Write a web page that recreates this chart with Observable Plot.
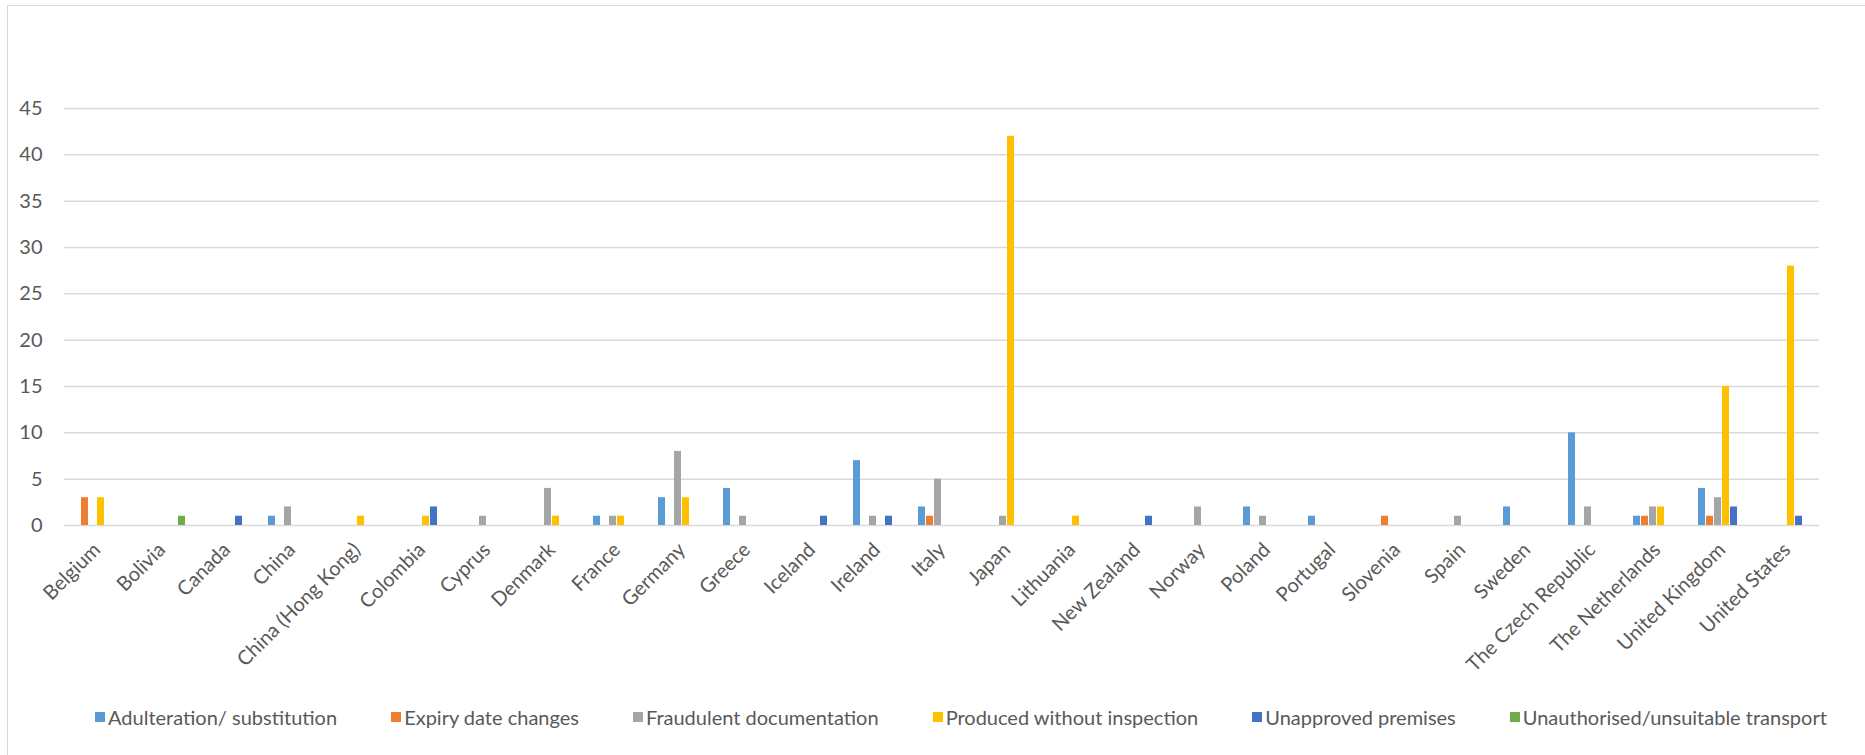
<!DOCTYPE html>
<html>
<head>
<meta charset="utf-8">
<script src="https://cdn.jsdelivr.net/npm/d3@7"></script>
<script src="https://cdn.jsdelivr.net/npm/@observablehq/plot@0.6"></script>
<style>
  html, body { margin: 0; padding: 0; background: #fff; }
  #wrap { position: relative; width: 1865px; height: 755px; overflow: hidden; font-family: Lato, "Liberation Sans", sans-serif; }
  #frame { position: absolute; left: 7px; top: 5px; width: 1870px; height: 760px;
           border-top: 1.5px solid #d9d9d9; border-left: 1.5px solid #d9d9d9; box-sizing: border-box; }
  #chart { position: absolute; left: 0; top: 0; }
  #legend { position: absolute; left: 95px; top: 705px; display: flex; gap: 54px;
            font-size: 20px; color: #595959; white-space: nowrap; }
  #legend .item { display: flex; align-items: center; }
  #legend .sw { width: 10px; height: 10px; margin-right: 3px; }
</style>
</head>
<body>
<div id="wrap">
  <div id="frame"></div>
  <div id="chart"></div>
  <div id="legend"></div>
</div>
<script>
// Reporting countries (x axis categories)
const countries = [
  "Belgium", "Bolivia", "Canada", "China", "China (Hong Kong)", "Colombia",
  "Cyprus", "Denmark", "France", "Germany", "Greece", "Iceland", "Ireland",
  "Italy", "Japan", "Lithuania", "New Zealand", "Norway", "Poland", "Portugal",
  "Slovenia", "Spain", "Sweden", "The Czech Republic", "The Netherlands",
  "United Kingdom", "United States"
];

// Incident types (series)
const seriesNames = [
  "Adulteration/ substitution",
  "Expiry date changes",
  "Fraudulent documentation",
  "Produced without inspection",
  "Unapproved premises",
  "Unauthorised/unsuitable transport"
];
const seriesColors = ["#5b9bd5", "#ed7d31", "#a5a5a5", "#ffc000", "#4472c4", "#70ad47"];

// Counts per country, one array per incident type (same order as countries)
const adulteration = [0,0,0,1,0,0,0,0,1,3,4,0,7,2,0,0,0,0,2,1,0,0,2,10,1,4,0];
const expiryChanges = [3,0,0,0,0,0,0,0,0,0,0,0,0,1,0,0,0,0,0,0,1,0,0,0,1,1,0];
const fraudulentDocs = [0,0,0,2,0,0,1,4,1,8,1,0,1,5,1,0,0,2,1,0,0,1,0,2,2,3,0];
const noInspection = [3,0,0,0,1,1,0,1,1,3,0,0,0,0,42,1,0,0,0,0,0,0,0,0,2,15,28];
const unapprovedPremises = [0,0,1,0,0,2,0,0,0,0,0,1,1,0,0,0,1,0,0,0,0,0,0,0,0,2,1];
const unsuitableTransport = [0,1,0,0,0,0,0,0,0,0,0,0,0,0,0,0,0,0,0,0,0,0,0,0,0,0,0];

// Y axis ticks
const yTicks = [0, 5, 10, 15, 20, 25, 30, 35, 40, 45];

const seriesValues = [adulteration, expiryChanges, fraudulentDocs, noInspection, unapprovedPremises, unsuitableTransport];

// Long-format rows for the grouped bars
const rows = [];
seriesNames.forEach((s, si) => {
  countries.forEach((c, ci) => {
    const v = seriesValues[si][ci];
    if (v > 0) rows.push({country: c, series: s, value: v});
  });
});

const textColor = "#595959";
const gridColor = "#d9d9d9";

// Country panels touch each other so the gridlines run unbroken;
// the gap between clusters comes from the outer padding of the x band scale.
const chart = Plot.plot({
  width: 1865,
  height: 700,
  marginTop: 108,
  marginBottom: 175,
  marginLeft: 60,
  marginRight: 42,
  style: {fontFamily: "Lato, 'Liberation Sans', sans-serif", fontSize: "20px", color: textColor, background: "transparent", overflow: "visible"},
  fx: {domain: countries, padding: 0, label: null, tickRotate: -45, tickSize: 0, tickPadding: 21},
  x: {domain: seriesNames, paddingInner: 0.15, paddingOuter: 0.9, axis: null},
  y: {domain: [0, 45], ticks: yTicks, tickSize: 0, tickPadding: 22, label: null},
  color: {domain: seriesNames, range: seriesColors},
  marks: [
    Plot.ruleY(yTicks, {stroke: gridColor, strokeWidth: 1.5}),
    Plot.barY(rows, {fx: "country", x: "series", y: "value", fill: "series"})
  ]
});
document.getElementById("chart").appendChild(chart);

// Legend row
const legend = d3.select("#legend");
seriesNames.forEach((s, i) => {
  const item = legend.append("div").attr("class", "item");
  item.append("div").attr("class", "sw").style("background", seriesColors[i]);
  item.append("span").text(s);
});
</script>
</body>
</html>
